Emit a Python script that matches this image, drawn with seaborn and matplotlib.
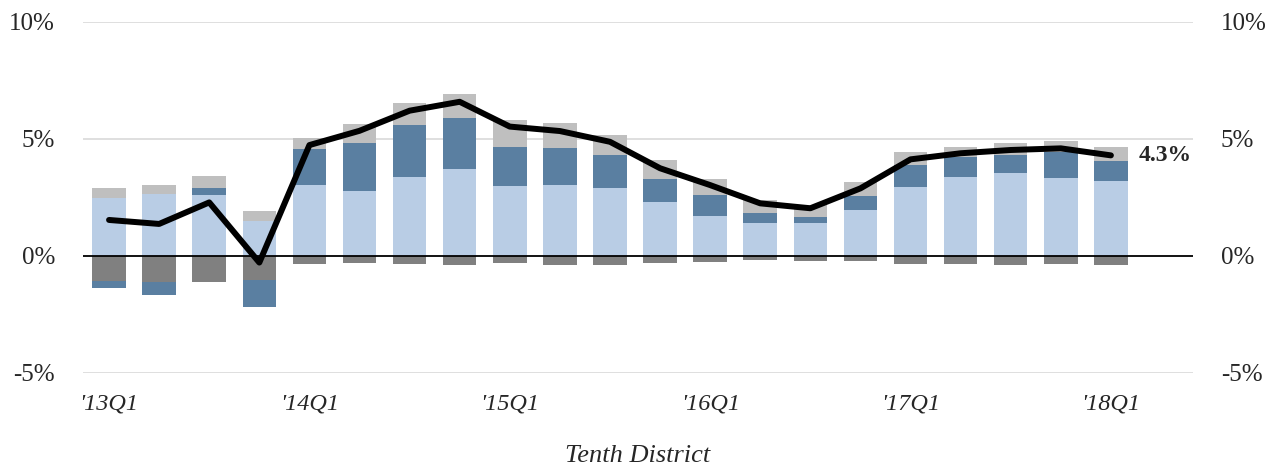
import matplotlib
matplotlib.use("Agg")
import matplotlib.pyplot as plt
import numpy as np
import pandas as pd
import seaborn as sns

# quarters '13Q1 .. '18Q1
quarters = [f"'{y}Q{q}" for y in range(13, 19) for q in range(1, 5)][:21]

# contributions (percentage points)
light_blue = [2.47, 2.65, 2.62, 1.50, 3.05, 2.76, 3.38, 3.70, 2.98, 3.05, 2.92,
              2.32, 1.72, 1.40, 1.41, 1.98, 2.94, 3.36, 3.53, 3.33, 3.21]
steel_blue = [-0.30, -0.56, 0.29, -1.14, 1.51, 2.08, 2.22, 2.19, 1.68, 1.57, 1.40,
              0.99, 0.88, 0.45, 0.26, 0.60, 0.95, 0.88, 0.78, 1.12, 0.85]
light_gray = [0.45, 0.38, 0.51, 0.41, 0.50, 0.80, 0.93, 1.04, 1.17, 1.05, 0.85,
              0.78, 0.68, 0.54, 0.51, 0.60, 0.54, 0.40, 0.53, 0.47, 0.61]
dark_gray = [-1.07, -1.12, -1.12, -1.03, -0.35, -0.29, -0.33, -0.37, -0.31, -0.38, -0.37,
             -0.31, -0.24, -0.17, -0.20, -0.21, -0.34, -0.35, -0.38, -0.35, -0.38]
total = [1.54, 1.37, 2.29, -0.28, 4.74, 5.35, 6.21, 6.59, 5.53, 5.34, 4.88,
         3.75, 3.03, 2.25, 2.04, 2.89, 4.13, 4.39, 4.53, 4.60, 4.30]

c_lb, c_sb, c_lg, c_dg = "#B9CDE5", "#5A7FA1", "#BFBFBF", "#808080"

sns.set_theme(style="white")
plt.rcParams['font.family'] = ['Liberation Serif', 'DejaVu Serif']

df = pd.DataFrame({"quarter": quarters, "lb": light_blue, "sb": steel_blue,
                   "lg": light_gray, "dg": dark_gray, "total": total})
df["sb_pos"] = df["sb"].clip(lower=0)
df["sb_neg"] = df["sb"].clip(upper=0)
# cumulative tops for overlay stacking
df["pos1"] = df["lb"]
df["pos2"] = df["lb"] + df["sb_pos"]
df["pos3"] = df["pos2"] + df["lg"]
df["neg1"] = df["dg"]
df["neg2"] = df["dg"] + df["sb_neg"]

fig = plt.figure(figsize=(12.73, 4.68), dpi=100)
ax = fig.add_axes([0.0652, 0.203, 0.872, 0.75])

w = 0.67
for col, c in [("pos3", c_lg), ("pos2", c_sb), ("pos1", c_lb),
               ("neg2", c_sb), ("neg1", c_dg)]:
    sns.barplot(data=df, x="quarter", y=col, color=c, width=w, saturation=1,
                linewidth=0, ax=ax, zorder=2)

sns.lineplot(x=np.arange(len(df)), y=df["total"].values, color="black",
             linewidth=4.3, ax=ax, zorder=4, solid_joinstyle="round",
             solid_capstyle="round")

ax.set_xlim(-0.52, 21.64)
ax.set_ylim(-5, 10)
ax.set_yticks([-5, 0, 5, 10])
ax.set_yticklabels([f"{v}%" for v in [-5, 0, 5, 10]], fontsize=18)
for v in [-5, 5, 10]:
    ax.axhline(v, color="#D9D9D9", lw=1.2, zorder=0)
ax.axhline(0, color="black", lw=1.3, zorder=3)

ticks = list(range(0, len(df), 4))
ax.set_xticks(ticks)
ax.set_xticklabels([quarters[i] for i in ticks], fontsize=17.5, style="italic")
ax.tick_params(axis="x", length=0, pad=15)
ax.tick_params(axis="y", length=0, pad=20)
ax.set_xlabel("Tenth District", fontsize=19, style="italic", labelpad=22)
ax.set_ylabel("")
for s in ax.spines.values():
    s.set_visible(False)

ax2 = ax.twinx()
ax2.set_ylim(ax.get_ylim())
ax2.set_yticks([-5, 0, 5, 10])
ax2.set_yticklabels([f"{v}%" for v in [-5, 0, 5, 10]], fontsize=18)
ax2.tick_params(axis="y", length=0, pad=20)
for s in ax2.spines.values():
    s.set_visible(False)

ax.text(len(df) - 1 + 0.55, total[-1], f"{total[-1]:.1f}%", fontsize=17,
        fontweight="bold", va="center", ha="left", zorder=5)

fig.savefig("out.png", dpi=100)
